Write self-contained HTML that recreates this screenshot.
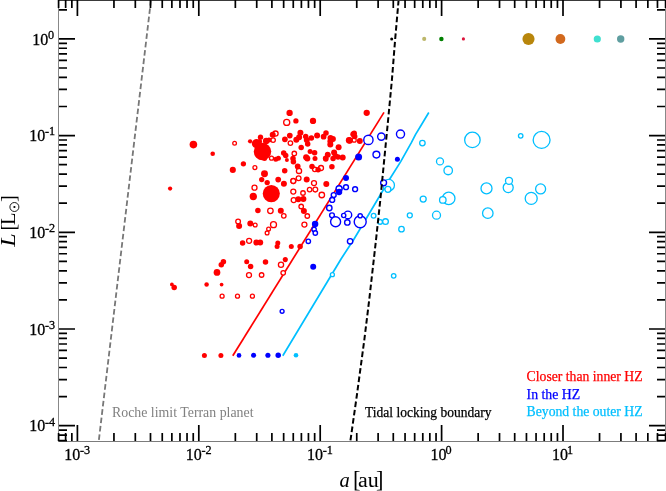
<!DOCTYPE html><html><head><meta charset="utf-8"><style>
html,body{margin:0;padding:0;background:#fff;}
svg{display:block;will-change:transform;}
text{font-family:"Liberation Serif",serif;}
.tl{stroke:#000;stroke-width:0.3px;}
</style></head><body>
<svg width="666" height="491" viewBox="0 0 666 491">
<polyline points="151.0,0.0 98.7,441.5" fill="none" stroke="#777" stroke-width="1.8" stroke-dasharray="5.6 2.81" stroke-dashoffset="0"/>
<line x1="232.8" y1="355.7" x2="384" y2="112.4" stroke="#f00" stroke-width="1.7"/>
<polyline points="282.8,355.7 341.2,258.7 353.3,240.3 360.2,228.7 389.9,178.8 400.7,161.6 411.5,142.4 415.6,134.4 421.3,125.0 428.8,112.5" fill="none" stroke="#00bfff" stroke-width="1.7" stroke-linejoin="round"/>
<circle cx="388.7" cy="185.2" r="5.75" fill="#fff" stroke="#00bfff" stroke-width="1.3"/>
<circle cx="387.9" cy="189.3" r="3.00" fill="#fff" stroke="#00bfff" stroke-width="1.3"/>
<circle cx="373.6" cy="215.8" r="2.35" fill="#fff" stroke="#00bfff" stroke-width="1.3"/>
<circle cx="409.8" cy="215.3" r="2.50" fill="#fff" stroke="#00bfff" stroke-width="1.3"/>
<circle cx="380.1" cy="221.9" r="2.35" fill="#fff" stroke="#00bfff" stroke-width="1.3"/>
<circle cx="385.5" cy="221.6" r="2.85" fill="#fff" stroke="#00bfff" stroke-width="1.3"/>
<circle cx="422.4" cy="143.1" r="2.75" fill="#fff" stroke="#00bfff" stroke-width="1.3"/>
<circle cx="472.4" cy="139.9" r="7.75" fill="#fff" stroke="#00bfff" stroke-width="1.3"/>
<circle cx="520.7" cy="135.8" r="2.25" fill="#fff" stroke="#00bfff" stroke-width="1.3"/>
<circle cx="541.6" cy="139.9" r="8.45" fill="#fff" stroke="#00bfff" stroke-width="1.3"/>
<circle cx="440" cy="161.4" r="3.50" fill="#fff" stroke="#00bfff" stroke-width="1.3"/>
<circle cx="448.2" cy="170.5" r="4.25" fill="#fff" stroke="#00bfff" stroke-width="1.3"/>
<circle cx="423.2" cy="199.1" r="3.00" fill="#fff" stroke="#00bfff" stroke-width="1.3"/>
<circle cx="448.7" cy="198.4" r="6.25" fill="#fff" stroke="#00bfff" stroke-width="1.3"/>
<circle cx="442.8" cy="199.9" r="3.25" fill="#fff" stroke="#00bfff" stroke-width="1.3"/>
<circle cx="486.5" cy="188.4" r="5.50" fill="#fff" stroke="#00bfff" stroke-width="1.3"/>
<circle cx="508.2" cy="187.6" r="5.00" fill="#fff" stroke="#00bfff" stroke-width="1.3"/>
<circle cx="509" cy="180.8" r="3.50" fill="#fff" stroke="#00bfff" stroke-width="1.3"/>
<circle cx="540.6" cy="188.9" r="5.00" fill="#fff" stroke="#00bfff" stroke-width="1.3"/>
<circle cx="531.2" cy="198.4" r="6.00" fill="#fff" stroke="#00bfff" stroke-width="1.3"/>
<circle cx="436.5" cy="215.2" r="4.00" fill="#fff" stroke="#00bfff" stroke-width="1.3"/>
<circle cx="487.8" cy="213.2" r="5.25" fill="#fff" stroke="#00bfff" stroke-width="1.3"/>
<circle cx="401.5" cy="229.2" r="2.75" fill="#fff" stroke="#00bfff" stroke-width="1.3"/>
<circle cx="332.4" cy="274.7" r="2.00" fill="#fff" stroke="#00bfff" stroke-width="1.3"/>
<circle cx="393.7" cy="275.8" r="2.25" fill="#fff" stroke="#00bfff" stroke-width="1.3"/>
<circle cx="296" cy="355.3" r="2.30" fill="#00bfff"/>
<circle cx="368.4" cy="139.9" r="4.65" fill="#fff" stroke="#0000ff" stroke-width="1.4"/>
<circle cx="381.3" cy="136.6" r="3.65" fill="#fff" stroke="#0000ff" stroke-width="1.4"/>
<circle cx="400.5" cy="134.1" r="4.05" fill="#fff" stroke="#0000ff" stroke-width="1.4"/>
<circle cx="376.4" cy="154.6" r="3.40" fill="#fff" stroke="#0000ff" stroke-width="1.4"/>
<circle cx="339.3" cy="188.3" r="2.45" fill="#fff" stroke="#0000ff" stroke-width="1.4"/>
<circle cx="346" cy="187.2" r="2.45" fill="#fff" stroke="#0000ff" stroke-width="1.4"/>
<circle cx="355.1" cy="189.2" r="2.45" fill="#fff" stroke="#0000ff" stroke-width="1.4"/>
<circle cx="339.1" cy="188.7" r="3.00" fill="#fff" stroke="#0000ff" stroke-width="1.4"/>
<circle cx="333.7" cy="195.1" r="2.45" fill="#fff" stroke="#0000ff" stroke-width="1.4"/>
<circle cx="332.2" cy="199.9" r="2.45" fill="#fff" stroke="#0000ff" stroke-width="1.4"/>
<circle cx="329.3" cy="208" r="2.70" fill="#fff" stroke="#0000ff" stroke-width="1.4"/>
<circle cx="332" cy="215.3" r="2.40" fill="#fff" stroke="#0000ff" stroke-width="1.4"/>
<circle cx="335.6" cy="221.8" r="5.00" fill="#fff" stroke="#0000ff" stroke-width="1.4"/>
<circle cx="347.9" cy="214.9" r="3.80" fill="#fff" stroke="#0000ff" stroke-width="1.4"/>
<circle cx="343.7" cy="215.5" r="2.10" fill="#fff" stroke="#0000ff" stroke-width="1.4"/>
<circle cx="347.3" cy="222.4" r="2.70" fill="#fff" stroke="#0000ff" stroke-width="1.4"/>
<circle cx="360.2" cy="221.8" r="6.00" fill="#fff" stroke="#0000ff" stroke-width="1.4"/>
<circle cx="360.2" cy="215.8" r="2.10" fill="#fff" stroke="#0000ff" stroke-width="1.4"/>
<circle cx="383.6" cy="182.8" r="2.95" fill="#fff" stroke="#0000ff" stroke-width="1.4"/>
<circle cx="314.1" cy="229.4" r="2.15" fill="#fff" stroke="#0000ff" stroke-width="1.4"/>
<circle cx="315.3" cy="233.0" r="2.20" fill="#fff" stroke="#0000ff" stroke-width="1.4"/>
<circle cx="308.3" cy="241.3" r="2.20" fill="#fff" stroke="#0000ff" stroke-width="1.4"/>
<circle cx="350.1" cy="241.3" r="2.70" fill="#fff" stroke="#0000ff" stroke-width="1.4"/>
<circle cx="282.1" cy="311.3" r="1.95" fill="#fff" stroke="#0000ff" stroke-width="1.4"/>
<circle cx="358.6" cy="157.0" r="3.50" fill="#0000ff"/>
<circle cx="346" cy="178.1" r="3.00" fill="#0000ff"/>
<circle cx="397.4" cy="159.2" r="2.50" fill="#0000ff"/>
<circle cx="339.1" cy="192.0" r="3.15" fill="#0000ff"/>
<circle cx="315.1" cy="224.1" r="3.25" fill="#0000ff"/>
<circle cx="313.2" cy="266.8" r="3.00" fill="#0000ff"/>
<circle cx="239" cy="355.4" r="2.35" fill="#0000ff"/>
<circle cx="253.6" cy="355.3" r="2.50" fill="#0000ff"/>
<circle cx="267.9" cy="355.3" r="2.55" fill="#0000ff"/>
<circle cx="278.2" cy="355.3" r="2.75" fill="#0000ff"/>
<circle cx="234.6" cy="143.3" r="1.85" fill="#fff" stroke="#ff0000" stroke-width="1.3"/>
<circle cx="275.5" cy="133.6" r="2.60" fill="#fff" stroke="#ff0000" stroke-width="1.3"/>
<circle cx="273.1" cy="140.1" r="2.25" fill="#fff" stroke="#ff0000" stroke-width="1.3"/>
<circle cx="271.5" cy="158.2" r="2.00" fill="#fff" stroke="#ff0000" stroke-width="1.3"/>
<circle cx="286.7" cy="122.4" r="3.05" fill="#fff" stroke="#ff0000" stroke-width="1.3"/>
<circle cx="290.4" cy="143.1" r="2.25" fill="#fff" stroke="#ff0000" stroke-width="1.3"/>
<circle cx="294.3" cy="153.5" r="2.25" fill="#fff" stroke="#ff0000" stroke-width="1.3"/>
<circle cx="354.2" cy="140.2" r="2.00" fill="#fff" stroke="#ff0000" stroke-width="1.3"/>
<circle cx="254.9" cy="167.6" r="1.95" fill="#fff" stroke="#ff0000" stroke-width="1.3"/>
<circle cx="293.3" cy="181" r="2.50" fill="#fff" stroke="#ff0000" stroke-width="1.3"/>
<circle cx="293.3" cy="191.6" r="2.50" fill="#fff" stroke="#ff0000" stroke-width="1.3"/>
<circle cx="293.7" cy="200.1" r="2.50" fill="#fff" stroke="#ff0000" stroke-width="1.3"/>
<circle cx="254.5" cy="187.7" r="2.50" fill="#fff" stroke="#ff0000" stroke-width="1.3"/>
<circle cx="299" cy="170.9" r="2.60" fill="#fff" stroke="#ff0000" stroke-width="1.3"/>
<circle cx="314.8" cy="169.3" r="2.25" fill="#fff" stroke="#ff0000" stroke-width="1.3"/>
<circle cx="321" cy="168" r="2.50" fill="#fff" stroke="#ff0000" stroke-width="1.3"/>
<circle cx="298.6" cy="178.2" r="2.40" fill="#fff" stroke="#ff0000" stroke-width="1.3"/>
<circle cx="293.3" cy="181.1" r="2.40" fill="#fff" stroke="#ff0000" stroke-width="1.3"/>
<circle cx="314" cy="183.1" r="2.50" fill="#fff" stroke="#ff0000" stroke-width="1.3"/>
<circle cx="309.6" cy="189.6" r="2.25" fill="#fff" stroke="#ff0000" stroke-width="1.3"/>
<circle cx="315.3" cy="189.6" r="2.40" fill="#fff" stroke="#ff0000" stroke-width="1.3"/>
<circle cx="303" cy="193" r="2.25" fill="#fff" stroke="#ff0000" stroke-width="1.3"/>
<circle cx="321.8" cy="195" r="2.75" fill="#fff" stroke="#ff0000" stroke-width="1.3"/>
<circle cx="301.2" cy="206.5" r="2.25" fill="#fff" stroke="#ff0000" stroke-width="1.3"/>
<circle cx="307.3" cy="216" r="2.25" fill="#fff" stroke="#ff0000" stroke-width="1.3"/>
<circle cx="304.4" cy="224.6" r="2.50" fill="#fff" stroke="#ff0000" stroke-width="1.3"/>
<circle cx="238.1" cy="221.5" r="2.35" fill="#fff" stroke="#ff0000" stroke-width="1.3"/>
<circle cx="255.2" cy="225" r="1.90" fill="#fff" stroke="#ff0000" stroke-width="1.3"/>
<circle cx="270.4" cy="210.8" r="2.75" fill="#fff" stroke="#ff0000" stroke-width="1.3"/>
<circle cx="283.8" cy="215.8" r="2.25" fill="#fff" stroke="#ff0000" stroke-width="1.3"/>
<circle cx="273.5" cy="224.7" r="3.00" fill="#fff" stroke="#ff0000" stroke-width="1.3"/>
<circle cx="268.6" cy="229.1" r="1.90" fill="#fff" stroke="#ff0000" stroke-width="1.3"/>
<circle cx="267.1" cy="232.9" r="1.90" fill="#fff" stroke="#ff0000" stroke-width="1.3"/>
<circle cx="249.1" cy="240.8" r="2.50" fill="#fff" stroke="#ff0000" stroke-width="1.3"/>
<circle cx="249" cy="275.1" r="2.50" fill="#fff" stroke="#ff0000" stroke-width="1.3"/>
<circle cx="281" cy="264.8" r="2.60" fill="#fff" stroke="#ff0000" stroke-width="1.3"/>
<circle cx="283.2" cy="272.8" r="2.25" fill="#fff" stroke="#ff0000" stroke-width="1.3"/>
<circle cx="261.6" cy="275" r="2.25" fill="#fff" stroke="#ff0000" stroke-width="1.3"/>
<circle cx="222.1" cy="296.2" r="2.00" fill="#fff" stroke="#ff0000" stroke-width="1.3"/>
<circle cx="237.5" cy="296.2" r="2.00" fill="#fff" stroke="#ff0000" stroke-width="1.3"/>
<circle cx="252.4" cy="296.2" r="2.00" fill="#fff" stroke="#ff0000" stroke-width="1.3"/>
<circle cx="193.4" cy="144.6" r="3.80" fill="#ff0000"/>
<circle cx="212.7" cy="153.7" r="2.30" fill="#ff0000"/>
<circle cx="250.1" cy="141.3" r="2.15" fill="#ff0000"/>
<circle cx="260.5" cy="137.2" r="2.65" fill="#ff0000"/>
<circle cx="256.3" cy="143.6" r="4.50" fill="#ff0000"/>
<circle cx="259.6" cy="141.6" r="2.50" fill="#ff0000"/>
<circle cx="262.5" cy="151.6" r="8.75" fill="#ff0000"/>
<circle cx="266.2" cy="140.9" r="3.25" fill="#ff0000"/>
<circle cx="269" cy="140" r="2.50" fill="#ff0000"/>
<circle cx="272.7" cy="134.8" r="3.00" fill="#ff0000"/>
<circle cx="264.5" cy="158.5" r="2.50" fill="#ff0000"/>
<circle cx="275.8" cy="159.2" r="2.50" fill="#ff0000"/>
<circle cx="278.4" cy="158.3" r="2.50" fill="#ff0000"/>
<circle cx="289.6" cy="112.9" r="3.15" fill="#ff0000"/>
<circle cx="295.9" cy="120.9" r="2.65" fill="#ff0000"/>
<circle cx="313.0" cy="120.9" r="3.15" fill="#ff0000"/>
<circle cx="284.9" cy="139.3" r="2.85" fill="#ff0000"/>
<circle cx="289.8" cy="135.6" r="2.85" fill="#ff0000"/>
<circle cx="296.3" cy="139.8" r="3.00" fill="#ff0000"/>
<circle cx="306.8" cy="140" r="3.00" fill="#ff0000"/>
<circle cx="300.4" cy="132.7" r="3.00" fill="#ff0000"/>
<circle cx="299.1" cy="137.2" r="3.00" fill="#ff0000"/>
<circle cx="305.7" cy="136.4" r="2.75" fill="#ff0000"/>
<circle cx="307.7" cy="144.1" r="2.75" fill="#ff0000"/>
<circle cx="311.4" cy="138" r="2.75" fill="#ff0000"/>
<circle cx="317.1" cy="135.6" r="3.00" fill="#ff0000"/>
<circle cx="301.2" cy="147.4" r="2.75" fill="#ff0000"/>
<circle cx="283.7" cy="153.1" r="2.75" fill="#ff0000"/>
<circle cx="285.7" cy="155.6" r="2.75" fill="#ff0000"/>
<circle cx="286.9" cy="160" r="2.00" fill="#ff0000"/>
<circle cx="293" cy="158.4" r="2.75" fill="#ff0000"/>
<circle cx="293.4" cy="161.7" r="2.75" fill="#ff0000"/>
<circle cx="306.1" cy="157.2" r="3.00" fill="#ff0000"/>
<circle cx="307.3" cy="158.4" r="3.00" fill="#ff0000"/>
<circle cx="310.1" cy="151.5" r="2.50" fill="#ff0000"/>
<circle cx="314.6" cy="152.7" r="2.75" fill="#ff0000"/>
<circle cx="315" cy="158.4" r="2.50" fill="#ff0000"/>
<circle cx="323.6" cy="136.7" r="2.85" fill="#ff0000"/>
<circle cx="326" cy="133" r="2.75" fill="#ff0000"/>
<circle cx="330.5" cy="137.9" r="3.00" fill="#ff0000"/>
<circle cx="332.9" cy="139.1" r="3.00" fill="#ff0000"/>
<circle cx="330.3" cy="144.6" r="3.00" fill="#ff0000"/>
<circle cx="330.4" cy="141.2" r="3.00" fill="#ff0000"/>
<circle cx="338.6" cy="147.3" r="3.00" fill="#ff0000"/>
<circle cx="349.6" cy="140.4" r="3.25" fill="#ff0000"/>
<circle cx="353.3" cy="134.3" r="3.00" fill="#ff0000"/>
<circle cx="354.7" cy="136.5" r="2.75" fill="#ff0000"/>
<circle cx="359.8" cy="141.1" r="3.00" fill="#ff0000"/>
<circle cx="327.6" cy="154.6" r="2.75" fill="#ff0000"/>
<circle cx="334.1" cy="152.6" r="3.00" fill="#ff0000"/>
<circle cx="335.4" cy="155.8" r="2.75" fill="#ff0000"/>
<circle cx="342.7" cy="157.5" r="3.00" fill="#ff0000"/>
<circle cx="325.6" cy="158.3" r="2.75" fill="#ff0000"/>
<circle cx="327.9" cy="154.9" r="2.75" fill="#ff0000"/>
<circle cx="333.1" cy="158.6" r="2.75" fill="#ff0000"/>
<circle cx="338" cy="156.9" r="2.75" fill="#ff0000"/>
<circle cx="325.8" cy="159" r="2.75" fill="#ff0000"/>
<circle cx="331.9" cy="166.7" r="2.75" fill="#ff0000"/>
<circle cx="366.7" cy="112.8" r="3.15" fill="#ff0000"/>
<circle cx="354.2" cy="133.2" r="2.75" fill="#ff0000"/>
<circle cx="349.1" cy="140.3" r="3.25" fill="#ff0000"/>
<circle cx="243.4" cy="163.8" r="2.65" fill="#ff0000"/>
<circle cx="264.5" cy="173.8" r="3.45" fill="#ff0000"/>
<circle cx="261.7" cy="179.6" r="2.65" fill="#ff0000"/>
<circle cx="267.2" cy="182.6" r="2.65" fill="#ff0000"/>
<circle cx="278.2" cy="179.6" r="2.85" fill="#ff0000"/>
<circle cx="283.9" cy="183.8" r="3.00" fill="#ff0000"/>
<circle cx="284.7" cy="170.8" r="2.75" fill="#ff0000"/>
<circle cx="253.3" cy="196.5" r="3.65" fill="#ff0000"/>
<circle cx="271.3" cy="193.6" r="8.55" fill="#ff0000"/>
<circle cx="297.7" cy="166.4" r="2.85" fill="#ff0000"/>
<circle cx="312" cy="166.4" r="2.75" fill="#ff0000"/>
<circle cx="318.1" cy="169.7" r="2.75" fill="#ff0000"/>
<circle cx="306.7" cy="179.4" r="3.00" fill="#ff0000"/>
<circle cx="326.3" cy="183.9" r="3.00" fill="#ff0000"/>
<circle cx="298.3" cy="199.2" r="3.00" fill="#ff0000"/>
<circle cx="303.4" cy="199" r="3.00" fill="#ff0000"/>
<circle cx="303.9" cy="210.9" r="3.00" fill="#ff0000"/>
<circle cx="232.8" cy="169.9" r="3.05" fill="#ff0000"/>
<circle cx="170.1" cy="188.6" r="2.15" fill="#ff0000"/>
<circle cx="239.1" cy="226.1" r="3.00" fill="#ff0000"/>
<circle cx="250.3" cy="223.5" r="3.00" fill="#ff0000"/>
<circle cx="257.9" cy="210.6" r="2.75" fill="#ff0000"/>
<circle cx="280.8" cy="210.8" r="3.00" fill="#ff0000"/>
<circle cx="242.6" cy="243" r="2.75" fill="#ff0000"/>
<circle cx="256.4" cy="242.6" r="3.00" fill="#ff0000"/>
<circle cx="260.2" cy="242.6" r="3.00" fill="#ff0000"/>
<circle cx="277.8" cy="243" r="2.50" fill="#ff0000"/>
<circle cx="277.1" cy="246.6" r="2.50" fill="#ff0000"/>
<circle cx="291.3" cy="246.4" r="2.50" fill="#ff0000"/>
<circle cx="300.1" cy="246.4" r="2.75" fill="#ff0000"/>
<circle cx="223.4" cy="261.8" r="2.75" fill="#ff0000"/>
<circle cx="221.3" cy="264.7" r="2.75" fill="#ff0000"/>
<circle cx="217" cy="272.4" r="3.35" fill="#ff0000"/>
<circle cx="246.7" cy="261.8" r="2.50" fill="#ff0000"/>
<circle cx="250.6" cy="266.6" r="2.75" fill="#ff0000"/>
<circle cx="265.5" cy="261.9" r="2.75" fill="#ff0000"/>
<circle cx="285.3" cy="259.6" r="2.55" fill="#ff0000"/>
<circle cx="206.6" cy="284.6" r="2.25" fill="#ff0000"/>
<circle cx="221.6" cy="284.6" r="1.85" fill="#ff0000"/>
<circle cx="171.9" cy="284.4" r="1.90" fill="#ff0000"/>
<circle cx="174.2" cy="287.4" r="2.75" fill="#ff0000"/>
<circle cx="204.4" cy="355.5" r="2.50" fill="#ff0000"/>
<circle cx="220.9" cy="355.5" r="2.50" fill="#ff0000"/>
<polyline points="398.6,0.0 395.1,40.0 391.9,80.0 388.1,120.0 380.3,200.0 376.0,240.0 369.2,300.0 364.3,340.0 356.9,395.0 350.3,441.5" fill="none" stroke="#000" stroke-width="2.0" stroke-dasharray="5.6 2.815" stroke-dashoffset="0.1"/>
<circle cx="391.7" cy="39.0" r="1.5" fill="#000"/>
<circle cx="424.2" cy="38.9" r="2.05" fill="#bdb76b"/>
<circle cx="441.4" cy="38.9" r="2.25" fill="#008000"/>
<circle cx="463.4" cy="38.9" r="1.6" fill="#dc143c"/>
<circle cx="528.5" cy="39.0" r="6.05" fill="#b8860b"/>
<circle cx="560.4" cy="39.0" r="4.9" fill="#d2691e"/>
<circle cx="597.3" cy="39.0" r="3.6" fill="#40e0d0"/>
<circle cx="620.7" cy="39.0" r="3.7" fill="#5f9ea0"/>
<rect x="58" y="0" width="1" height="442" fill="#888"/>
<rect x="665" y="0" width="1" height="442" fill="#888"/>
<rect x="58" y="441" width="608" height="1" fill="#7c7c7c"/>
<rect x="58" y="0" width="608" height="1" fill="#3a3a3a"/>
<path d="M58.59 441V433M58.59 0V8 M65.64 441V433M65.64 0V8 M71.85 441V433M71.85 0V8 M77.40 441V425M77.40 0V16 M113.95 441V433M113.95 0V8 M135.32 441V433M135.32 0V8 M150.49 441V433M150.49 0V8 M162.25 441V433M162.25 0V8 M171.87 441V433M171.87 0V8 M179.99 441V433M179.99 0V8 M187.04 441V433M187.04 0V8 M193.25 441V433M193.25 0V8 M198.80 441V425M198.80 0V16 M235.35 441V433M235.35 0V8 M256.72 441V433M256.72 0V8 M271.89 441V433M271.89 0V8 M283.65 441V433M283.65 0V8 M293.27 441V433M293.27 0V8 M301.39 441V433M301.39 0V8 M308.44 441V433M308.44 0V8 M314.65 441V433M314.65 0V8 M320.20 441V425M320.20 0V16 M356.75 441V433M356.75 0V8 M378.12 441V433M378.12 0V8 M393.29 441V433M393.29 0V8 M405.05 441V433M405.05 0V8 M414.67 441V433M414.67 0V8 M422.79 441V433M422.79 0V8 M429.84 441V433M429.84 0V8 M436.05 441V433M436.05 0V8 M441.60 441V425M441.60 0V16 M478.15 441V433M478.15 0V8 M499.52 441V433M499.52 0V8 M514.69 441V433M514.69 0V8 M526.45 441V433M526.45 0V8 M536.07 441V433M536.07 0V8 M544.19 441V433M544.19 0V8 M551.24 441V433M551.24 0V8 M557.45 441V433M557.45 0V8 M563.00 441V425M563.00 0V16 M599.55 441V433M599.55 0V8 M620.92 441V433M620.92 0V8 M636.09 441V433M636.09 0V8 M647.85 441V433M647.85 0V8 M657.47 441V433M657.47 0V8 M665.59 441V433M665.59 0V8 M59 440.68H67M665 440.68H657 M59 435.07H67M665 435.07H657 M59 430.12H67M665 430.12H657 M59 425.70H75M665 425.70H649 M59 396.59H67M665 396.59H657 M59 379.56H67M665 379.56H657 M59 367.48H67M665 367.48H657 M59 358.11H67M665 358.11H657 M59 350.45H67M665 350.45H657 M59 343.98H67M665 343.98H657 M59 338.37H67M665 338.37H657 M59 333.42H67M665 333.42H657 M59 329.00H75M665 329.00H649 M59 299.89H67M665 299.89H657 M59 282.86H67M665 282.86H657 M59 270.78H67M665 270.78H657 M59 261.41H67M665 261.41H657 M59 253.75H67M665 253.75H657 M59 247.28H67M665 247.28H657 M59 241.67H67M665 241.67H657 M59 236.72H67M665 236.72H657 M59 232.30H75M665 232.30H649 M59 203.19H67M665 203.19H657 M59 186.16H67M665 186.16H657 M59 174.08H67M665 174.08H657 M59 164.71H67M665 164.71H657 M59 157.05H67M665 157.05H657 M59 150.58H67M665 150.58H657 M59 144.97H67M665 144.97H657 M59 140.02H67M665 140.02H657 M59 135.60H75M665 135.60H649 M59 106.49H67M665 106.49H657 M59 89.46H67M665 89.46H657 M59 77.38H67M665 77.38H657 M59 68.01H67M665 68.01H657 M59 60.35H67M665 60.35H657 M59 53.88H67M665 53.88H657 M59 48.27H67M665 48.27H657 M59 43.32H67M665 43.32H657 M59 38.90H75M665 38.90H649 M59 9.79H67M665 9.79H657" stroke="#000" stroke-width="1.7" fill="none"/>
<text class="tl" y="44.5" font-size="16.3"><tspan x="32.3" textLength="16.0" lengthAdjust="spacingAndGlyphs">10</tspan><tspan x="48.1" font-size="12.2" dy="-5.8">0</tspan></text>
<text class="tl" y="141.2" font-size="16.3"><tspan x="29.2" textLength="16.0" lengthAdjust="spacingAndGlyphs">10</tspan><tspan x="44.9" font-size="12.2" dy="-5.8">-1</tspan></text>
<text class="tl" y="237.9" font-size="16.3"><tspan x="29.2" textLength="16.0" lengthAdjust="spacingAndGlyphs">10</tspan><tspan x="44.9" font-size="12.2" dy="-5.8">-2</tspan></text>
<text class="tl" y="334.6" font-size="16.3"><tspan x="29.2" textLength="16.0" lengthAdjust="spacingAndGlyphs">10</tspan><tspan x="44.9" font-size="12.2" dy="-5.8">-3</tspan></text>
<text class="tl" y="431.3" font-size="16.3"><tspan x="29.2" textLength="16.0" lengthAdjust="spacingAndGlyphs">10</tspan><tspan x="44.9" font-size="12.2" dy="-5.8">-4</tspan></text>
<text class="tl" y="459.8" font-size="16.3"><tspan x="64.3" textLength="16.0" lengthAdjust="spacingAndGlyphs">10</tspan><tspan x="80.0" font-size="12.2" dy="-6.0">-3</tspan></text>
<text class="tl" y="459.8" font-size="16.3"><tspan x="185.7" textLength="16.0" lengthAdjust="spacingAndGlyphs">10</tspan><tspan x="201.4" font-size="12.2" dy="-6.0">-2</tspan></text>
<text class="tl" y="459.8" font-size="16.3"><tspan x="307.1" textLength="16.0" lengthAdjust="spacingAndGlyphs">10</tspan><tspan x="322.8" font-size="12.2" dy="-6.0">-1</tspan></text>
<text class="tl" y="459.8" font-size="16.3"><tspan x="430.5" textLength="16.0" lengthAdjust="spacingAndGlyphs">10</tspan><tspan x="445.6" font-size="12.2" dy="-6.0">0</tspan></text>
<text class="tl" y="459.8" font-size="16.3"><tspan x="551.9" textLength="16.0" lengthAdjust="spacingAndGlyphs">10</tspan><tspan x="567.0" font-size="12.2" dy="-6.0">1</tspan></text>
<text y="486.5" font-size="20.5"><tspan x="339.5" font-style="italic">a</tspan><tspan x="353.0" font-size="22.5" dy="0.3">[</tspan><tspan x="358.1" dy="-0.3" textLength="20.8" lengthAdjust="spacingAndGlyphs">au</tspan><tspan x="376.1" font-size="22.5" dy="0.3">]</tspan></text>
<g transform="translate(14.7,246.5) rotate(-90)"><text y="0" font-size="20.5"><tspan x="-0.3" font-style="italic" textLength="13.4" lengthAdjust="spacingAndGlyphs">L</tspan><tspan x="15.9">[</tspan><tspan x="21.4">L</tspan><tspan x="44.4">]</tspan></text><circle cx="39.5" cy="-0.3" r="4.5" fill="none" stroke="#000" stroke-width="0.9"/><circle cx="39.5" cy="-0.3" r="1.1" fill="#000"/></g>
<text x="112" y="416.9" font-size="14.0" fill="#808080" stroke="#808080" stroke-width="0" textLength="141.5" lengthAdjust="spacingAndGlyphs">Roche limit Terran planet</text>
<text x="365.0" y="416.6" font-size="14.0" fill="#000" stroke="#000" stroke-width="0.25" textLength="126.5" lengthAdjust="spacingAndGlyphs">Tidal locking boundary</text>
<text x="526.6" y="381.2" font-size="14.0" fill="#ff0000" stroke="#ff0000" stroke-width="0.25" textLength="116" lengthAdjust="spacingAndGlyphs">Closer than inner HZ</text>
<text x="526.6" y="398.8" font-size="14.0" fill="#0000ff" stroke="#0000ff" stroke-width="0.25" textLength="53.6" lengthAdjust="spacingAndGlyphs">In the HZ</text>
<text x="526.6" y="416.3" font-size="14.0" fill="#00bfff" stroke="#00bfff" stroke-width="0.25" textLength="116" lengthAdjust="spacingAndGlyphs">Beyond the outer HZ</text>
</svg></body></html>
